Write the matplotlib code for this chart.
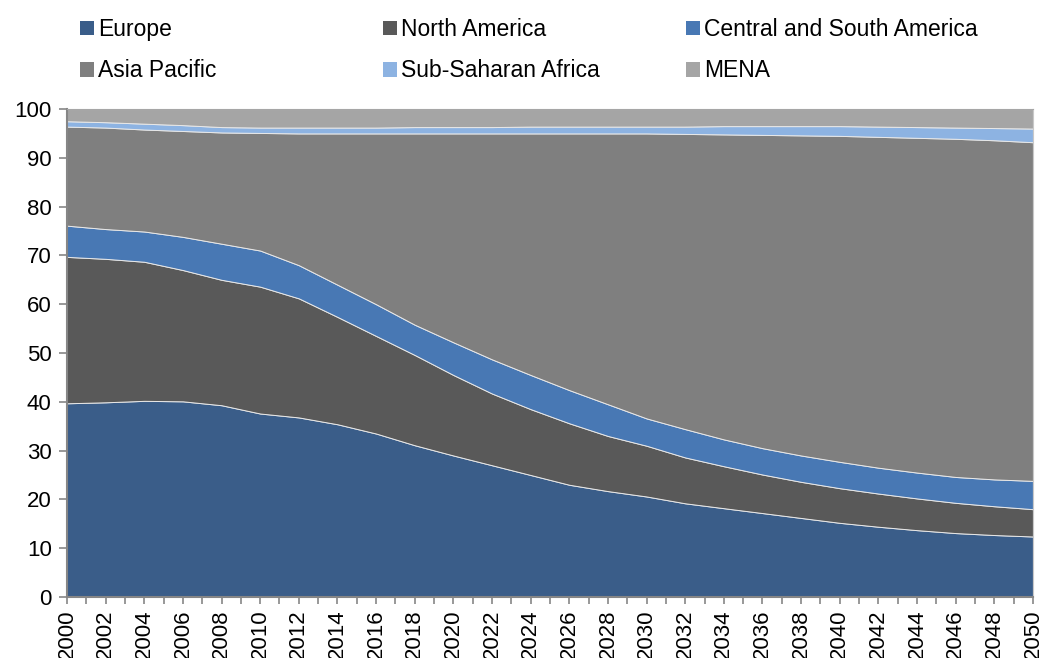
import numpy as np
import matplotlib
matplotlib.use("Agg")
import matplotlib.pyplot as plt
from matplotlib.patches import Patch

plt.rcParams['font.family'] = ['Liberation Sans', 'DejaVu Sans']

# share of total (%) by region at even years
years = list(range(2000, 2051, 2))
europe = [39.7, 39.9, 40.2, 40.1, 39.3, 37.6, 36.8, 35.4, 33.5, 31.1, 29.0, 27.0, 25.0,
          23.0, 21.7, 20.6, 19.2, 18.2, 17.2, 16.2, 15.2, 14.4, 13.7, 13.1, 12.7, 12.4]
north_america = [30.0, 29.4, 28.5, 26.9, 25.7, 26.0, 24.4, 22.0, 20.0, 18.5, 16.5, 14.7, 13.5,
                 12.6, 11.3, 10.4, 9.4, 8.6, 7.9, 7.4, 7.1, 6.8, 6.5, 6.2, 5.9, 5.6]
central_south_america = [6.4, 6.1, 6.2, 6.8, 7.4, 7.4, 6.8, 6.6, 6.5, 6.2, 6.7, 7.0, 7.0,
                         6.8, 6.5, 5.6, 5.8, 5.5, 5.4, 5.4, 5.4, 5.3, 5.3, 5.3, 5.5, 5.8]
asia_pacific = [20.3, 20.8, 20.9, 21.7, 22.8, 24.1, 27.0, 31.0, 35.0, 39.2, 42.8, 46.3, 49.5,
                52.6, 55.5, 58.4, 60.5, 62.5, 64.2, 65.6, 66.8, 67.8, 68.6, 69.3, 69.5, 69.4]
sub_saharan_africa = [1.1, 1.1, 1.2, 1.2, 1.1, 1.1, 1.2, 1.2, 1.2, 1.3, 1.3, 1.3, 1.4,
                      1.4, 1.4, 1.4, 1.5, 1.7, 1.8, 1.9, 2.0, 2.1, 2.2, 2.3, 2.5, 2.8]
mena = [2.5, 2.7, 3.0, 3.3, 3.7, 3.8, 3.8, 3.8, 3.8, 3.7, 3.7, 3.7, 3.6,
        3.6, 3.6, 3.6, 3.6, 3.5, 3.5, 3.5, 3.5, 3.6, 3.7, 3.8, 3.9, 4.0]

labels = ['Europe', 'North America', 'Central and South America',
          'Asia Pacific', 'Sub-Saharan Africa', 'MENA']
colors = ['#3A5D89', '#595959', '#4878B4', '#7F7F7F', '#8DB3E2', '#A5A5A5']

fig = plt.figure(figsize=(10.4, 6.58), dpi=100)
ax = fig.add_axes([0.0644, 0.0927, 0.9288, 0.7416])

ax.stackplot(years, europe, north_america, central_south_america, asia_pacific,
             sub_saharan_africa, mena, colors=colors, edgecolor='#E8E8E8', linewidth=0.7)

ax.set_xlim(2000, 2050)
ax.set_ylim(0, 100)
ax.set_yticks(range(0, 101, 10))
ax.set_xticks(range(2000, 2051, 2))
ax.set_xticks(range(2000, 2051, 1), minor=True)
ax.tick_params(axis='x', which='both', direction='out', length=5, width=1.2, color='#868686',
               labelsize=16, labelrotation=90, pad=4)
ax.tick_params(axis='y', direction='out', length=6, width=1.2, color='#868686', labelsize=16, pad=5)

for side in ['left', 'bottom']:
    ax.spines[side].set_color('#868686')
    ax.spines[side].set_linewidth(1.5)
ax.spines['top'].set_color('#A6A6A6')
ax.spines['right'].set_color('#C8C8C8')

# legend laid out as three columns of two rows
handles = [Patch(facecolor=c, edgecolor='none') for c in colors]
col_x = [80, 383, 686]
for i, x in enumerate(col_x):
    fig.legend([handles[i], handles[i + 3]], [labels[i], labels[i + 3]],
               loc='upper left', bbox_to_anchor=(x / 1040, 1 - 18 / 658),
               frameon=False, fontsize=16.5, borderpad=0, borderaxespad=0,
               handlelength=0.61, handleheight=0.61, handletextpad=0.17,
               labelspacing=0.8)

fig.savefig('out.png', dpi=100)
